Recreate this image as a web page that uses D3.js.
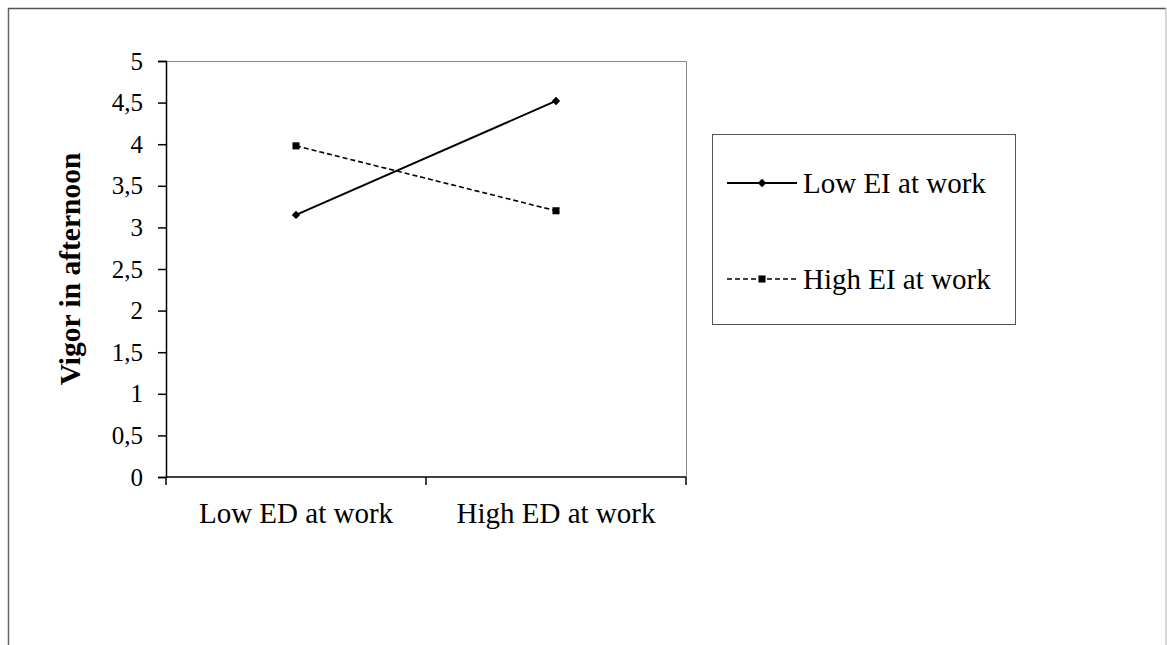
<!DOCTYPE html>
<html><head><meta charset="utf-8">
<script src="https://cdn.jsdelivr.net/npm/d3@7"></script>
<style>html,body{margin:0;padding:0;background:#fff;}svg{display:block;}</style>
</head><body>
<svg id="c" width="1167" height="645"></svg>
<script>
const categories = ["Low ED at work", "High ED at work"];
const seriesNames = ["Low EI at work", "High EI at work"];
const lowEI = [3.15, 4.52];
const highEI = [3.98, 3.20];
const yTicks = [0, 0.5, 1, 1.5, 2, 2.5, 3, 3.5, 4, 4.5, 5];
const yTitle = "Vigor in afternoon";

const svg = d3.select("#c");
const font = "'Liberation Serif','Times New Roman',serif";
const L = 166, R = 686, T = 61, B = 477;

// outer frame
svg.append("line").attr("x1",8.5).attr("x2",8.5).attr("y1",8).attr("y2",645).attr("stroke","#666").attr("stroke-width",1.5);
svg.append("line").attr("x1",8).attr("x2",1166).attr("y1",8.5).attr("y2",8.5).attr("stroke","#555").attr("stroke-width",1.5);
svg.append("line").attr("x1",1166).attr("x2",1166).attr("y1",8).attr("y2",645).attr("stroke","#aaa").attr("stroke-width",1);

const x = d3.scaleBand().domain(categories).range([L, R]).padding(0);
const y = d3.scaleLinear().domain([0,5]).range([B, T]);
const cx = c => x(c) + x.bandwidth()/2;

// plot area border (top/right gray)
svg.append("path").attr("d",`M${L},${T+0.5}H${R+0.5}V${B}`).attr("fill","none").attr("stroke","#888").attr("stroke-width",1);

const yAxis = svg.append("g").attr("transform",`translate(${L},0)`)
  .call(d3.axisLeft(y).tickValues(yTicks).tickSize(8).tickPadding(15).tickFormat(d => String(d).replace(".", ",")));
const xAxis = svg.append("g").attr("transform",`translate(0,${B})`)
  .call(d3.axisBottom(x).tickSize(0).tickPadding(25));
// category boundary ticks
xAxis.selectAll(".bt").data([L, L + x.bandwidth(), R]).enter().append("line")
  .attr("x1",d=>d).attr("x2",d=>d).attr("y1",0).attr("y2",8).attr("stroke","#000").attr("stroke-width",1.5);
[yAxis, xAxis].forEach(g => {
  g.select(".domain").attr("stroke","#000").attr("stroke-width",1.5);
  g.selectAll(".tick line").attr("stroke","#000").attr("stroke-width",1.5);
  g.selectAll("text").attr("font-family",font).attr("fill","#000");
});
yAxis.selectAll("text").attr("font-size",25);
xAxis.selectAll("text").attr("font-size",29);
xAxis.select(".domain").attr("d",`M${L},0H${R}`);

svg.append("text").attr("transform",`translate(80,${(T+B)/2}) rotate(-90)`)
  .attr("text-anchor","middle").attr("font-family",font).attr("font-weight","bold").attr("font-size",29.5)
  .text(yTitle);

const line = d3.line().x((d,i)=>cx(categories[i])).y(d=>y(d));
svg.append("path").datum(lowEI).attr("d",line).attr("fill","none").attr("stroke","#000").attr("stroke-width",2);
svg.append("path").datum(highEI).attr("d",line).attr("fill","none").attr("stroke","#000").attr("stroke-width",1.6).attr("stroke-dasharray","5,3");

const diamond = d3.symbol().type(d3.symbolDiamond2).size(45);
const square = d3.symbol().type(d3.symbolSquare).size(50);
svg.selectAll(".m1").data(lowEI).enter().append("path").attr("d",diamond)
  .attr("transform",(d,i)=>`translate(${cx(categories[i])},${y(d)})`).attr("fill","#000");
svg.selectAll(".m2").data(highEI).enter().append("path").attr("d",square)
  .attr("transform",(d,i)=>`translate(${cx(categories[i])},${y(d)})`).attr("fill","#000");

// legend
const lg = svg.append("g");
lg.append("rect").attr("x",712.5).attr("y",134.5).attr("width",303).attr("height",190).attr("fill","none").attr("stroke","#555").attr("stroke-width",1);
const items = [{name:seriesNames[0], dash:null, w:2, sym:diamond, yy:183},{name:seriesNames[1], dash:"5,3", w:1.6, sym:square, yy:279}];
items.forEach(it => {
  lg.append("line").attr("x1",727).attr("x2",797).attr("y1",it.yy).attr("y2",it.yy).attr("stroke","#000").attr("stroke-width",it.w).attr("stroke-dasharray",it.dash);
  lg.append("path").attr("d",it.sym).attr("transform",`translate(762,${it.yy})`).attr("fill","#000");
  lg.append("text").attr("x",803).attr("y",it.yy).attr("dy","0.35em").attr("font-family",font).attr("font-size",29).text(it.name);
});
</script>
</body></html>
